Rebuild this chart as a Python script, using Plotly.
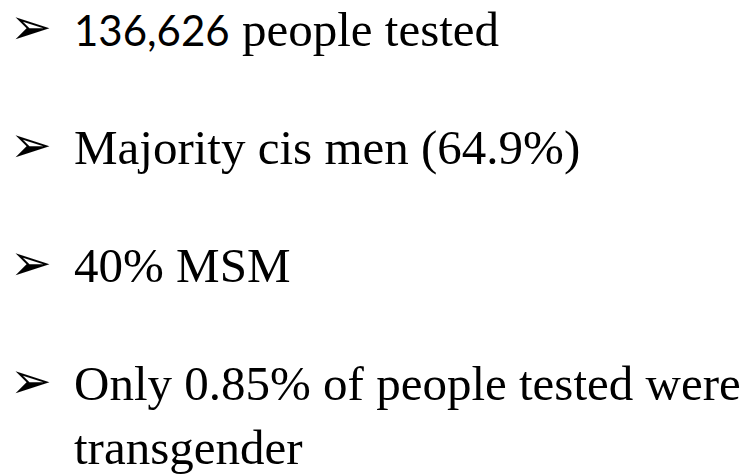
import plotly.graph_objects as go

# slide text, one entry per bullet
bullet_lead = ["136,626", "", "", ""]          # part set in the sans face
bullet_text = [
    " people tested",
    "Majority cis men (64.9%)",
    "40% MSM",
    "Only 0.85% of people tested were<br>transgender",
]
bullet_rows = [0, 1, 2, 3]
bullet_mark = "\u27a2"

SERIF = "Liberation Serif, Times New Roman, serif"
SANS = "Lato, Open Sans, sans-serif"

fig = go.Figure()

annotations = []
for row, lead, text in zip(bullet_rows, bullet_lead, bullet_text):
    label = text
    if lead:
        label = f'<span style="font-family:{SANS};font-size:42px">{lead}</span>{text}'
    annotations.append(
        dict(
            x=0, y=row, xref="x", yref="y",
            text=bullet_mark, showarrow=False,
            xanchor="left", yanchor="top",
            font=dict(family="DejaVu Sans", size=50, color="black"),
            yshift=18,
        )
    )
    annotations.append(
        dict(
            x=64, y=row, xref="x", yref="y",
            text=label, showarrow=False,
            xanchor="left", yanchor="top", align="left",
            font=dict(family=SERIF, size=49, color="black"),
            yshift=14,
        )
    )

fig.update_layout(
    width=751,
    height=474,
    margin=dict(l=0, r=0, t=0, b=0),
    paper_bgcolor="white",
    plot_bgcolor="white",
    showlegend=False,
    annotations=annotations,
)
fig.update_xaxes(range=[0, 751], visible=False)
fig.update_yaxes(range=[474 / 118 - 0.05, -0.05], visible=False)

fig.write_html("out.html")
